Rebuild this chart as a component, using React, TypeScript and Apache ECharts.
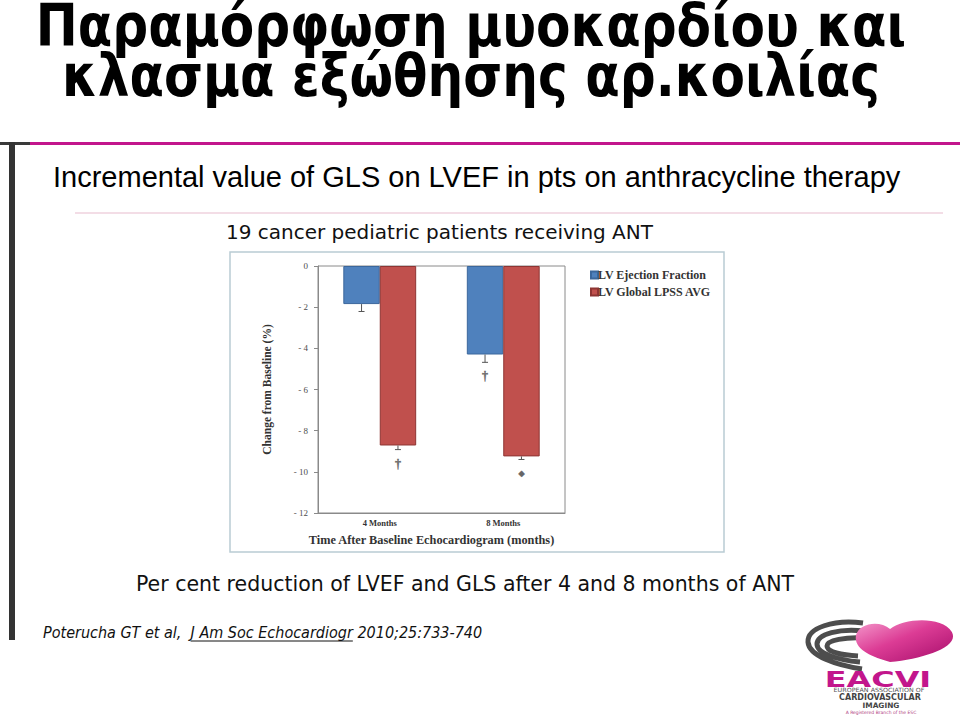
import React, { useEffect, useRef } from "react";
import * as echarts from "echarts";

const titleLines = ["Παραμόρφωση μυοκαρδίου και", "κλασμα εξώθησης αρ.κοιλίας"];
const subTitle = "Incremental value of GLS on LVEF in pts on anthracycline therapy";
const chartTitle = "19 cancer pediatric patients receiving ANT";
const caption = "Per cent reduction of LVEF and GLS after 4 and 8 months of ANT";
const citeA = "Poterucha GT et al,  ";
const citeB = "J Am Soc Echocardiogr";
const citeC = " 2010;25:733-740";

const categories = ["4 Months", "8 Months"];
const seriesNames = ["LV Ejection Fraction", "LV Global LPSS AVG"];
const efValues = [-1.85, -4.3];
const glsValues = [-8.72, -9.25];
const efErrors = [0.36, 0.38];
const glsErrors = [0.2, 0.15];
const efMarks = ["", "†"];
const glsMarks = ["†", "◆"];
const yTicks = [0, -2, -4, -6, -8, -10, -12];

const SERIF = "'Liberation Serif', 'DejaVu Serif', serif";
const COND = "'DejaVu Sans Condensed', 'DejaVu Sans', sans-serif";

function measure(text: string, font: string): number {
  const c = document.createElement("canvas").getContext("2d");
  if (!c) return text.length * 7;
  c.font = font;
  return c.measureText(text).width;
}

echarts.graphic.registerShape(
  "heart",
  echarts.graphic.extendPath(
    "M36 43 C18 38 0 30 3 16 C6 4 26 1 36 10 C50 -1 86 -3 96 13 C104 28 68 40 36 43 Z",
    {}
  )
);
echarts.graphic.registerShape(
  "swoosh",
  echarts.graphic.extendPath(
    "M57 3 C28 -1 1 8 2 22 C3 36 30 45 56 49 M58 11 C34 8 11 14 11 24 C11 34 32 40 54 42 M58 18 C40 17 21 20 21 26 C21 32 36 35 52 36",
    {}
  )
);

export default function App() {
  const ref = useRef<HTMLDivElement>(null);
  useEffect(() => {
    if (!ref.current) return;
    const chart = echarts.init(ref.current, undefined, { renderer: "svg" });

    const bandRatio = 0.59;
    const errRender = (marks: string[], side: number) => (params: any, api: any) => {
      const ci = api.value(0);
      const v = api.value(1);
      const e = api.value(2);
      const base = api.coord([ci, v]);
      const band = api.size([1, 0])[0];
      const bw = (band * bandRatio) / 2;
      const x = base[0] + (side * bw) / 2;
      const y1 = base[1];
      const y2 = api.coord([ci, v - e])[1];
      const mark = marks[params.dataIndex];
      const children: any[] = [
        { type: "line", shape: { x1: x, y1, x2: x, y2 }, style: { stroke: "#555", lineWidth: 1 } },
        { type: "line", shape: { x1: x - 3, y1: y2, x2: x + 3, y2 }, style: { stroke: "#555", lineWidth: 1 } },
      ];
      if (mark) {
        children.push({
          type: "text",
          x,
          y: y2 + 14,
          style: {
            text: mark,
            fill: "#666",
            stroke: "#777",
            lineWidth: 0.4,
            fontSize: mark === "◆" ? 8 : 12,
            fontWeight: "bold",
            fontFamily: SERIF,
            align: "center",
            verticalAlign: "middle",
          },
        });
      }
      return { type: "group", children };
    };

    const citeFont = "italic 16px 'DejaVu Sans Condensed'";
    const wA = measure(citeA, citeFont);
    const wB = measure(citeB, citeFont);
    const citeX = 43;

    const heartFill = new echarts.graphic.LinearGradient(0, 0, 1, 1, [
      { offset: 0, color: "#f59ccd" },
      { offset: 0.45, color: "#dc3c95" },
      { offset: 1, color: "#a50c6a" },
    ]);

    const option: any = {
      animation: false,
      backgroundColor: "#ffffff",
      grid: {
        left: 318,
        top: 266,
        width: 247,
        height: 247,
        show: true,
        borderColor: "#8a8a8a",
        borderWidth: 1,
        containLabel: false,
      },
      legend: {
        left: 585,
        top: 264,
        orient: "vertical",
        itemWidth: 7,
        itemHeight: 7,
        itemGap: 5,
        icon: "rect",
        data: seriesNames,
        textStyle: { fontFamily: SERIF, fontWeight: "bold", fontSize: 12, color: "#333", padding: [0, 0, 0, -5] },
      },
      xAxis: {
        type: "category",
        data: categories,
        position: "bottom",
        axisLine: { show: true, onZero: false, lineStyle: { color: "#8a8a8a" } },
        axisTick: { show: false },
        axisLabel: { fontFamily: SERIF, fontWeight: "bold", fontSize: 8.5, color: "#333", margin: 5 },
        name: "Time After Baseline Echocardiogram (months)",
        nameLocation: "middle",
        nameGap: 21,
        nameTextStyle: { fontFamily: SERIF, fontWeight: "bold", fontSize: 12.3, color: "#333", padding: [0, 20, 0, 0] },
      },
      yAxis: {
        type: "value",
        min: -12,
        max: 0,
        interval: 2,
        splitLine: { show: false },
        axisLine: { show: true, lineStyle: { color: "#8a8a8a" } },
        axisTick: { show: true, length: 4, lineStyle: { color: "#8a8a8a" } },
        axisLabel: {
          fontFamily: SERIF,
          fontSize: 9,
          color: "#4d4d4d",
          margin: 10,
          formatter: (v: number) => (yTicks.indexOf(v) >= 0 ? (v === 0 ? "0" : "- " + Math.abs(v)) : ""),
        },
        name: "Change from Baseline (%)",
        nameLocation: "middle",
        nameRotate: 90,
        nameGap: 45,
        nameTextStyle: { fontFamily: SERIF, fontWeight: "bold", fontSize: 11.5, color: "#333" },
      },
      series: [
        {
          name: seriesNames[0],
          type: "bar",
          data: efValues,
          barGap: "0%",
          barCategoryGap: "41%",
          itemStyle: { color: "#4f81bd", borderColor: "#3b679c", borderWidth: 1 },
        },
        {
          name: seriesNames[1],
          type: "bar",
          data: glsValues,
          barGap: "0%",
          barCategoryGap: "41%",
          itemStyle: { color: "#c0504d", borderColor: "#8e3533", borderWidth: 1 },
        },
        {
          type: "custom",
          z: 5,
          renderItem: errRender(efMarks, -1),
          data: efValues.map((v, i) => [i, v, efErrors[i]]),
          encode: { x: 0, y: 1 },
          silent: true,
        },
        {
          type: "custom",
          z: 5,
          renderItem: errRender(glsMarks, 1),
          data: glsValues.map((v, i) => [i, v, glsErrors[i]]),
          encode: { x: 0, y: 1 },
          silent: true,
        },
      ],
      graphic: [
        // Slide title
        {
          type: "text",
          x: 471,
          y: 26,
          scaleX: 0.962,
          style: {
            text: titleLines[0],
            fontFamily: COND,
            fontWeight: "bold",
            fontSize: 58,
            lineHeight: 50,
            fill: "#000",
            align: "center",
            verticalAlign: "middle",
          },
        },
        {
          type: "text",
          x: 471,
          y: 76,
          scaleX: 0.962,
          style: {
            text: titleLines[1],
            fontFamily: COND,
            fontWeight: "bold",
            fontSize: 58,
            lineHeight: 50,
            fill: "#000",
            align: "center",
            verticalAlign: "middle",
          },
        },
        // decoration lines
        { type: "rect", shape: { x: 0, y: 142, width: 30, height: 3 }, style: { fill: "#3a3a3a" } },
        { type: "rect", shape: { x: 30, y: 142, width: 930, height: 3 }, style: { fill: "#c2168c" } },
        { type: "rect", shape: { x: 9, y: 142, width: 6, height: 498 }, style: { fill: "#333333" } },
        { type: "rect", shape: { x: 75, y: 212, width: 868, height: 2 }, style: { fill: "#f3dde6" } },
        // subtitle
        {
          type: "text",
          x: 53,
          y: 177,
          style: {
            text: subTitle,
            fontFamily: "'Liberation Sans', Arial, sans-serif",
            fontSize: 29,
            fill: "#000",
            align: "left",
            verticalAlign: "middle",
          },
        },
        // chart image frame
        {
          type: "rect",
          z: -10,
          shape: { x: 230, y: 252, width: 494, height: 300 },
          style: { fill: "none", stroke: "#b9ccd4", lineWidth: 1.5 },
        },
        {
          type: "text",
          x: 226,
          y: 232,
          style: {
            text: chartTitle,
            fontFamily: "'DejaVu Sans', sans-serif",
            fontSize: 20,
            fill: "#111",
            align: "left",
            verticalAlign: "middle",
          },
        },
        // caption
        {
          type: "text",
          x: 465,
          y: 584,
          style: {
            text: caption,
            fontFamily: "'DejaVu Sans', sans-serif",
            fontSize: 20.5,
            fill: "#111",
            align: "center",
            verticalAlign: "middle",
          },
        },
        // citation
        {
          type: "text",
          x: citeX,
          y: 632,
          style: {
            text: citeA + citeB + citeC,
            fontFamily: "'DejaVu Sans Condensed'",
            fontStyle: "italic",
            fontSize: 16,
            fill: "#111",
            align: "left",
            verticalAlign: "middle",
          },
        },
        {
          type: "line",
          shape: { x1: citeX + wA, y1: 641, x2: citeX + wA + wB, y2: 641 },
          style: { stroke: "#111", lineWidth: 1 },
        },
        // EACVI logo
        { type: "swoosh", x: 806, y: 620, style: { fill: "none", stroke: "#4d4d4d", lineWidth: 5 } },
        { type: "heart", x: 853, y: 619, scaleX: 1.03, scaleY: 1.0, style: { fill: heartFill } },
        {
          type: "text",
          x: 878,
          y: 679,
          scaleX: 1.45,
          style: {
            text: "EACVI",
            fontFamily: "'DejaVu Sans', sans-serif",
            fontWeight: "bold",
            fontSize: 22,
            lineHeight: 17,
            fill: "#c2168c",
            align: "center",
            verticalAlign: "middle",
          },
        },
        {
          type: "text",
          x: 879,
          y: 690,
          scaleX: 1.1,
          style: { text: "EUROPEAN ASSOCIATION OF", fontFamily: "'DejaVu Sans'", fontSize: 5.8, lineHeight: 5, fill: "#555", align: "center", verticalAlign: "middle" },
        },
        {
          type: "text",
          x: 880,
          y: 697,
          style: { text: "CARDIOVASCULAR", fontFamily: "'DejaVu Sans'", fontWeight: "bold", fontSize: 8, lineHeight: 7, fill: "#444", align: "center", verticalAlign: "middle" },
        },
        {
          type: "text",
          x: 881,
          y: 705,
          style: { text: "IMAGING", fontFamily: "'DejaVu Sans'", fontWeight: "bold", fontSize: 7.4, lineHeight: 7, fill: "#444", align: "center", verticalAlign: "middle" },
        },
        {
          type: "text",
          x: 881,
          y: 712,
          style: { text: "A Registered Branch of the ESC", fontFamily: "'DejaVu Sans'", fontSize: 4.5, lineHeight: 5, fill: "#b04080", align: "center", verticalAlign: "middle" },
        },
      ],
    };

    chart.setOption(option);
    return () => chart.dispose();
  }, []);

  return (
    <div
      ref={ref}
      style={{ position: "absolute", left: 0, top: 0, width: 960, height: 717, background: "#fff" }}
    />
  );
}
